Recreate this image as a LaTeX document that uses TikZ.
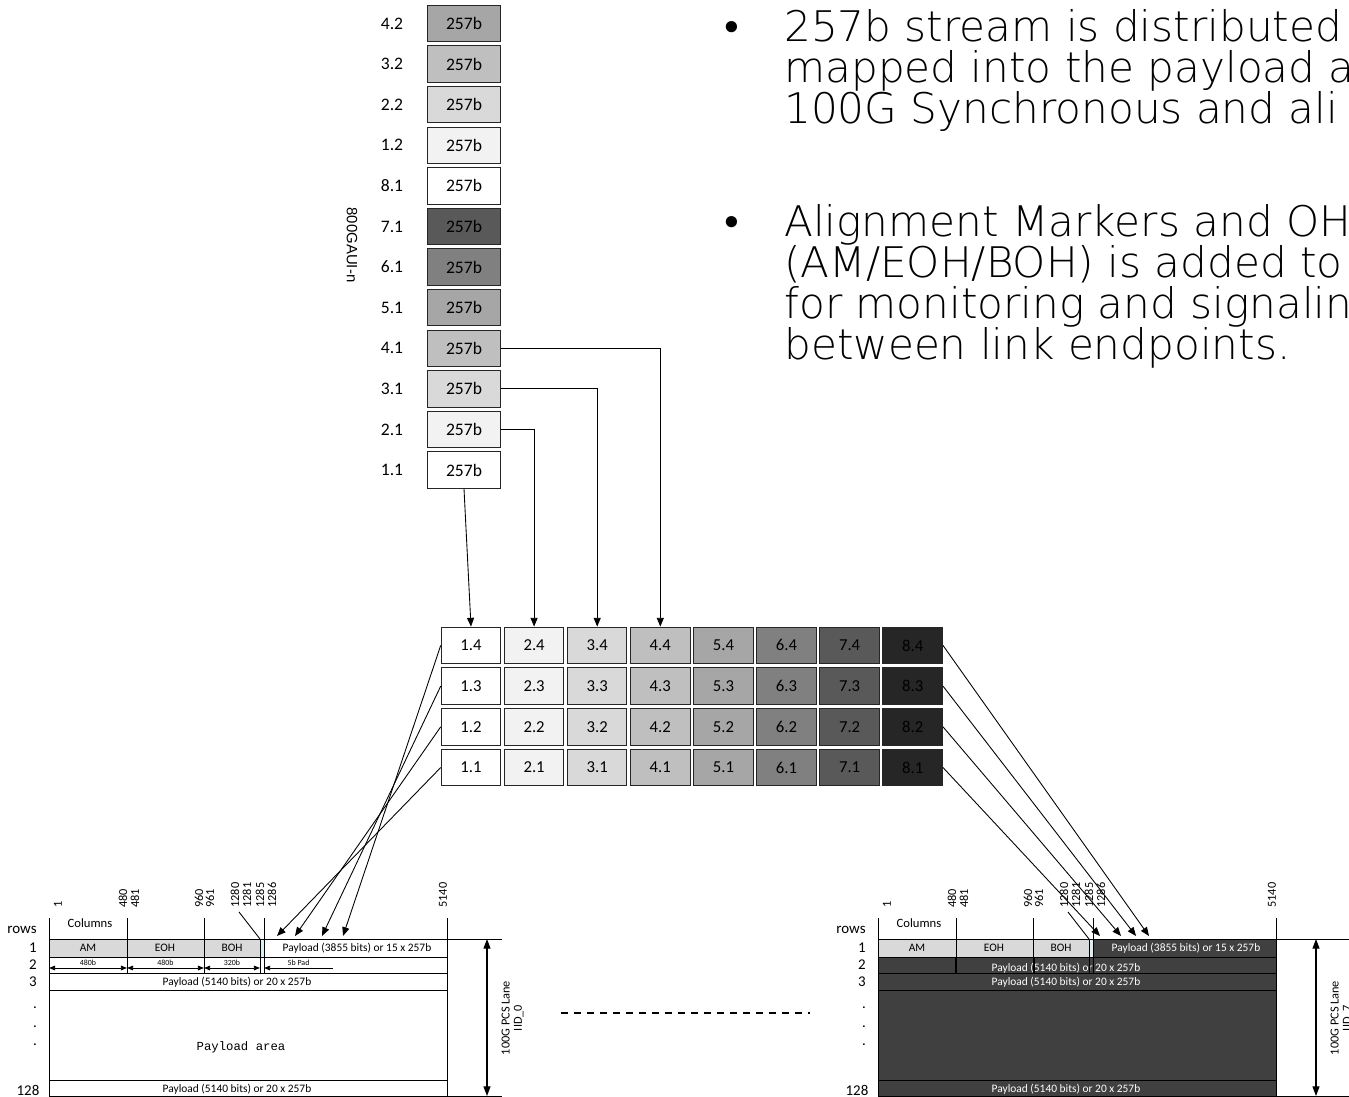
\documentclass[tikz,border=0pt]{standalone}
\usepackage{fontspec}
\setmainfont{Carlito}
\newfontfamily\slidefont{DejaVu Sans ExtraLight}
\newfontfamily\dotfont{DejaVu Sans}
\newfontfamily\arialfont{Liberation Sans}
\newfontfamily\courfont{Liberation Mono}
\usetikzlibrary{arrows.meta, positioning, calc}

\definecolor{lv1}{HTML}{FFFFFF}
\definecolor{lv2}{HTML}{F2F2F2}
\definecolor{lv3}{HTML}{D9D9D9}
\definecolor{lv4}{HTML}{BFBFBF}
\definecolor{lv5}{HTML}{A6A6A6}
\definecolor{lv6}{HTML}{808080}
\definecolor{lv7}{HTML}{595959}
\definecolor{lv8}{HTML}{262626}
\definecolor{ohgray}{HTML}{D9D9D9}
\definecolor{padblue}{HTML}{DAEEF3}
\definecolor{dkpay}{HTML}{404040}

\newcommand{\fsz}[1]{\fontsize{#1}{#1}\selectfont}

\begin{document}
\begin{tikzpicture}[x=0.02cm, y=-0.02cm,
  blk/.style={draw=black!85, line width=0.6pt, minimum width=1.47cm,
              minimum height=0.73cm, inner sep=0pt, font=\fsz{10}},
  cell/.style={draw=black!85, line width=0.6pt, minimum width=1.19cm,
               minimum height=0.73cm, inner sep=0pt, font=\fsz{9.5}},
  lbl/.style={inner sep=0pt, font=\fsz{10}},
  conn/.style={-{Triangle[length=5pt,width=4pt]}, line width=0.5pt},
  dimarr/.style={{Triangle[length=3.5pt,width=2.6pt]}-{Triangle[length=3.5pt,width=2.6pt]},
                 line width=0.5pt},
  lanearr/.style={{Triangle[length=5.5pt,width=4pt]}-{Triangle[length=5.5pt,width=4pt]},
                  line width=0.6pt},
  frm/.style={line width=0.5pt},
  rowlbl/.style={inner sep=0pt, font=\fsz{8.5}},
  colnum/.style={inner sep=0pt, font=\fsz{7}, rotate=90, anchor=west},
  celltxt/.style={inner sep=0pt, font=\fsz{6.5}},
  tinytxt/.style={inner sep=0pt, font=\fsz{4.5}},
  slideline/.style={inner sep=0pt, anchor=base west, font=\slidefont\fsz{24}},
  slidedot/.style={inner sep=0pt, anchor=base west, font=\dotfont\fsz{22}}]

  \useasboundingbox (0,0) rectangle (1349,1097);

  % Bullet text
  \node[slidedot] (b1) at (720,42) {•};
  \node[slideline] (t1) at (784,42) {257b stream is distributed};
  \node[slideline] (t2) at (784,83) {mapped into the payload a};
  \node[slideline] (t3) at (784,124) {100G Synchronous and ali};
  \node[slidedot] (b2) at (720,237) {•};
  \node[slideline] (t4) at (784,237) {Alignment Markers and OH};
  \node[slideline] (t5) at (784,278) {(AM/EOH/BOH) is added to};
  \node[slideline] (t6) at (784,319) {for monitoring and signaling};
  \node[slideline] (t7) at (784,360) {between link endpoints.};

  % 800GAUI-n 257b stream
  \node[rotate=-90, inner sep=0pt, font=\arialfont\fsz{8.5}] (gaui) at (352,245) {800GAUI-n};
  \foreach \a/\b/\col [count=\i from 0] in {4/2/lv5, 3/2/lv4, 2/2/lv3, 1/2/lv2,
      8/1/lv1, 7/1/lv7, 6/1/lv6, 5/1/lv5, 4/1/lv4, 3/1/lv3, 2/1/lv2, 1/1/lv1} {
    \node[blk, fill=\col] (blk\a\b) at (464, 23.5+40.6*\i) {257b};
    \node[lbl] (lab\a\b) at (392, 23.5+40.6*\i) {\a.\b};
  }

  % Lane distribution grid
  \foreach \c/\col in {1/lv1, 2/lv2, 3/lv3, 4/lv4, 5/lv5, 6/lv6, 7/lv7, 8/lv8} {
    \foreach \r in {1,...,4} {
      \node[cell, fill=\col] (g\c\r) at ({471+63.1*(\c-1)}, {767.5-40.7*(\r-1)}) {\c.\r};
    }
  }

  % Stream into grid
  \draw[conn] (blk11.south) -- (g14.north);
  \draw[conn] (blk21.east) -| (g24.north);
  \draw[conn] (blk31.east) -| (g34.north);
  \draw[conn] (blk41.east) -| (g44.north);

  % 100G PCS lane frames
  \foreach \fr/\dx/\pay/\ink/\ext/\iid in {L/0/white/black/502/0, R/829/dkpay/white/520/7} {
    \begin{scope}[shift={(\dx,0)}]
      \fill[ohgray] (49,939) rectangle (260,957);
      \fill[padblue] (260,939) rectangle (264,957);
      \fill[\pay] (264,939) rectangle (447,957);
      \fill[\pay] (49,957) rectangle (447,1097);

      \node[celltxt] (\fr-am) at (88,948) {AM};
      \node[celltxt] (\fr-eoh) at (165,948) {EOH};
      \node[celltxt] (\fr-boh) at (232,948) {BOH};
      \node[celltxt, text=\ink] (\fr-pl) at (357,948) {Payload (3855 bits) or 15 x 257b};
      \node[celltxt, text=\ink] (\fr-r3) at (237,982) {Payload (5140 bits) or 20 x 257b};
      \node[celltxt, text=\ink] (\fr-rl) at (237,1089) {Payload (5140 bits) or 20 x 257b};

      \draw[frm] (49,918) -- (49,1097) (447,918) -- (447,1097);
      \draw[frm] (49,939) -- (\ext,939) (49,1096.5) -- (\ext,1096.5);
      \foreach \yy in {957,973,990,1080} \draw[frm] (49,\yy) -- (447,\yy);
      \draw[frm] (127,918) -- (127,973) (204,918) -- (204,973)
                 (264,918) -- (264,973) (260,939) -- (260,973);
      \draw[frm] (239,912) -- (260,939);

      % rows and columns
      \node[font=\fsz{7.2}, inner sep=0pt] (\fr-cols) at (90,923) {Columns};
      \node[rowlbl] (\fr-rows) at (22,930) {rows};
      \node[rowlbl] (\fr-r1l) at (33,948) {1};
      \node[rowlbl] (\fr-r2l) at (33,965) {2};
      \node[rowlbl] (\fr-r3l) at (33,982) {3};
      \foreach \yy in {1008,1027,1045} \node[rowlbl] at (35,\yy) {.};
      \node[rowlbl] (\fr-r128l) at (28,1090) {128};
      \foreach \n/\xx in {1/58, 480/123, 481/135, 960/199, 961/210,
                          1280/235, 1281/247, 1285/260, 1286/272, 5140/443}
        \node[colnum] (\fr-c\n) at (\xx,908) {\n};

      % lane height
      \coordinate (\fr-atop) at (487,939);
      \coordinate (\fr-abot) at (487,1096);
      \draw[lanearr] (\fr-atop) -- (\fr-abot);
      \node[rotate=90, align=center, inner sep=0pt, font=\fsz{7}] (\fr-lane)
        at (512.5,1018) {100G PCS Lane\\IID\_\iid};
    \end{scope}
  }

  % Row 2 of the first frame
  \coordinate (d0) at (49,968);
  \coordinate (d1) at (127,968);
  \coordinate (d2) at (204,968);
  \coordinate (d3) at (260,968);
  \coordinate (d4) at (264,968);
  \coordinate (d5) at (333,968);
  \draw[dimarr] (d0) -- (d1) node[midway, above=1pt, tinytxt] (w1) {480b};
  \draw[dimarr] (d1) -- (d2) node[midway, above=1pt, tinytxt] (w2) {480b};
  \draw[dimarr] (d2) -- (d3) node[midway, above=1pt, tinytxt] (w3) {320b};
  \draw[{Triangle[length=3.5pt,width=2.6pt]}-, line width=0.5pt] (d4) -- (d5)
    node[midway, above=1pt, tinytxt] (w4) {5b Pad};
  \node[font=\courfont\fsz{7}, inner sep=0pt] (area) at (241,1047) {Payload area};

  % Row 2 of the last frame
  \node[celltxt, text=white] (R-r2) at (1066,968) {Payload (5140 bits) or 20 x 257b};
  \draw[frm] (955,957) -- (955,973) (1034,957) -- (1034,973)
             (1089,957) -- (1089,973) (1093,957) -- (1093,973);

  % Grid into frames
  \coordinate (lt1) at (277,936);
  \coordinate (lt2) at (295,936);
  \coordinate (lt3) at (322,936);
  \coordinate (lt4) at (343,936);
  \coordinate (rt1) at (1100,936);
  \coordinate (rt2) at (1121,936);
  \coordinate (rt3) at (1136,936);
  \coordinate (rt4) at (1149,936);
  \foreach \r in {1,...,4} {
    \draw[conn] (g1\r.west) -- (lt\r);
    \draw[conn] (g8\r.east) -- (rt\r);
  }

  % Lanes in between
  \coordinate (dashL) at (561,1013);
  \coordinate (dashR) at (810,1013);
  \draw[dash pattern=on 4.2pt off 3.2pt, line width=0.6pt] (dashL) -- (dashR);
\end{tikzpicture}
\end{document}
